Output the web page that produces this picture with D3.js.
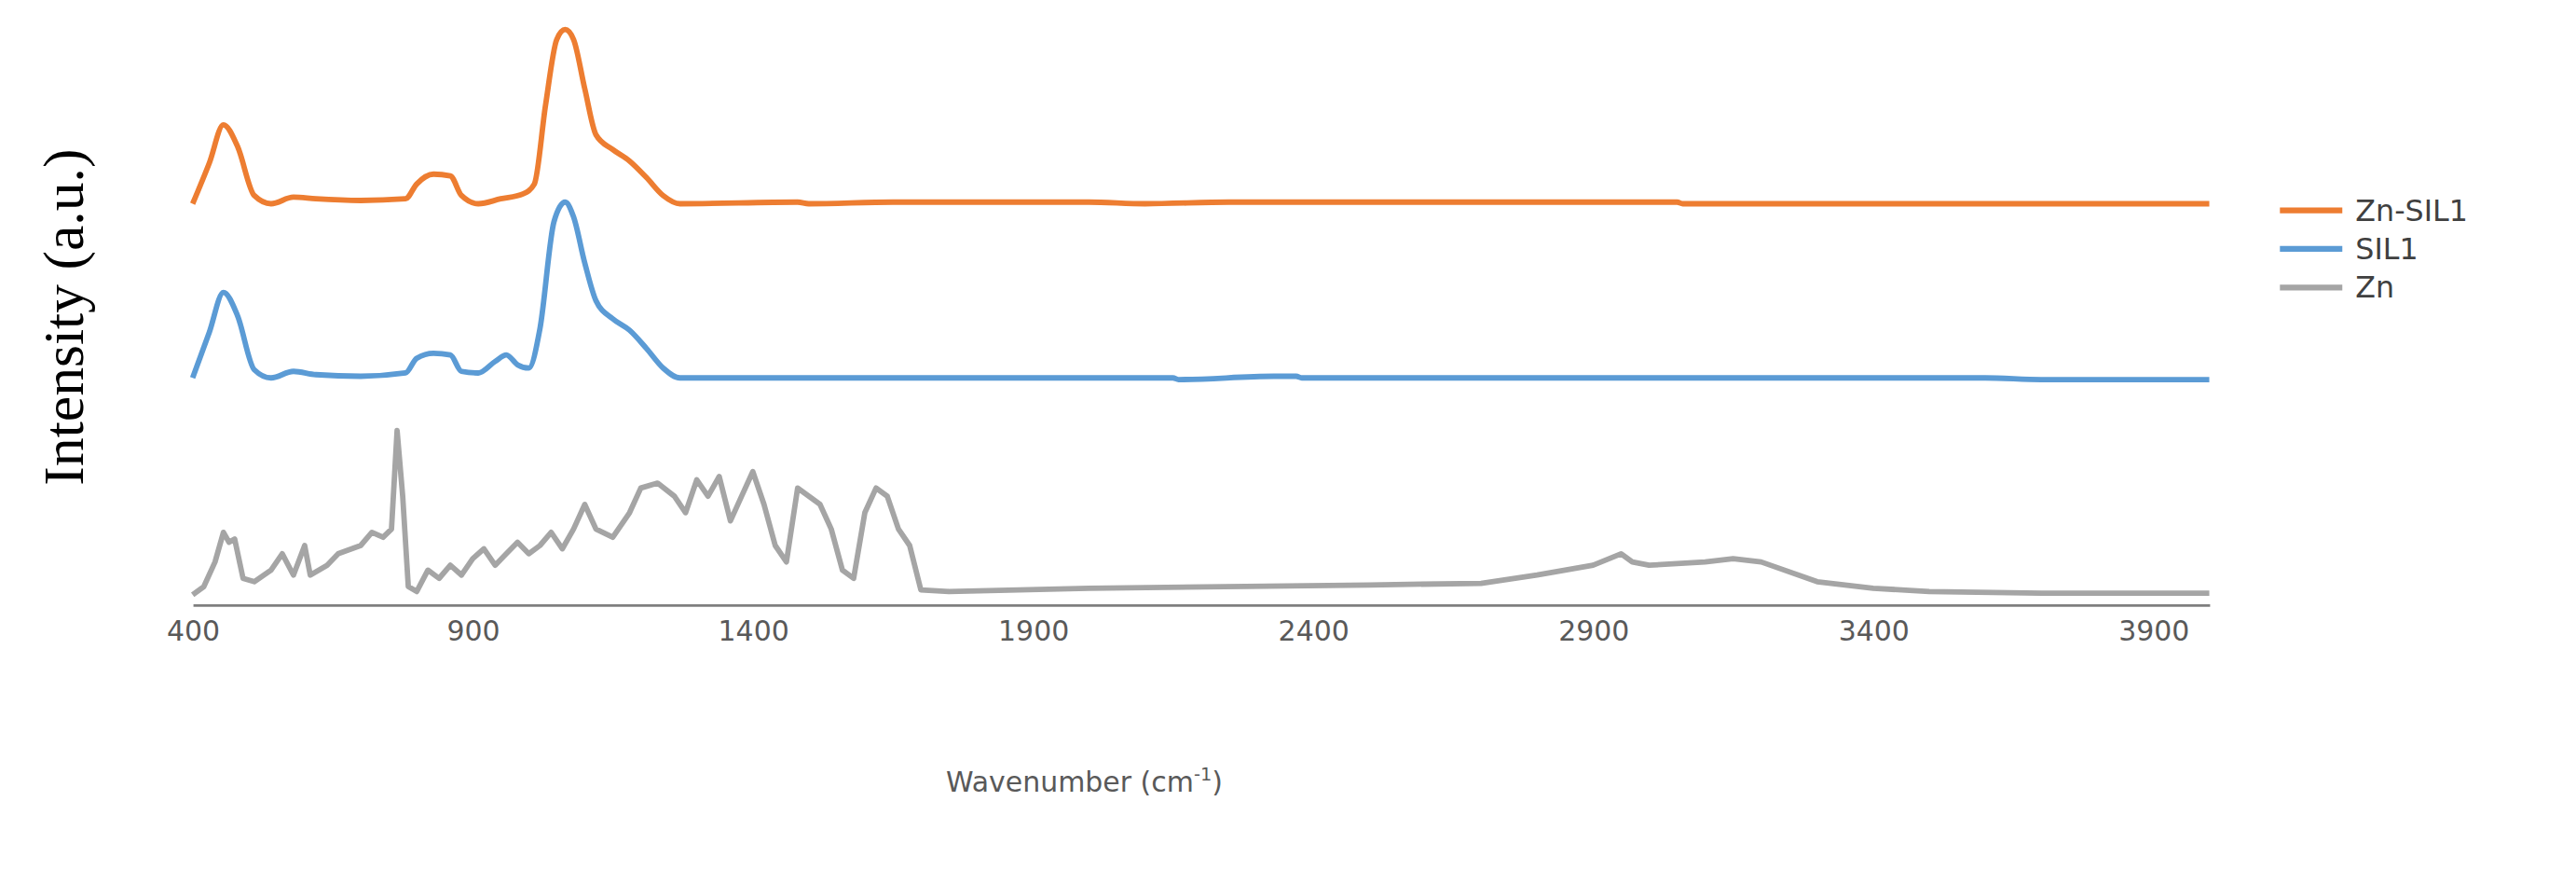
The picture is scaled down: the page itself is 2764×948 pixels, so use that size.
<!DOCTYPE html>
<html><head><meta charset="utf-8">
<script src="https://cdn.jsdelivr.net/npm/d3@7"></script>
<style>body{margin:0;background:#fff}</style>
</head><body>
<div class="sh"></div>
<script>
// series data: [wavenumber, intensity above own baseline]
var znSil1 = [[400,0],[430,25],[455,48],[480,35],[510,5],[540,0],[580,4],[620,3],[700,2],[780,3],[800,12],[830,18],[860,17],[880,5],[910,0],[950,3],[990,6],[1010,12],[1030,60],[1050,100],[1065,106],[1080,100],[1100,70],[1120,42],[1150,33],[1180,26],[1210,16],[1240,5],[1270,0],[1480,1],[1500,0],[1650,1],[2000,1],[2100,0],[2250,1],[3050,1],[3060,0],[4000,0]];
var sil1 = [[400,0],[430,28],[455,52],[480,38],[510,5],[540,0],[580,4],[620,2],[700,1],[780,3],[800,12],[830,15],[860,14],[880,4],[910,3],[940,10],[960,14],[980,8],[1000,6],[1020,30],[1045,95],[1065,107],[1080,98],[1100,70],[1120,47],[1150,36],[1180,29],[1210,18],[1240,6],[1270,0],[2150,0],[2160,-1],[2330,1],[2370,1],[2380,0],[3600,0],[3700,-1],[4000,-1]];
var zn = [[400,0],[420,5],[440,20],[455,38],[465,32],[475,34],[490,10],[510,8],[540,15],[560,25],[580,12],[600,30],[610,12],[640,18],[660,25],[700,30],[720,38],[740,35],[755,40],[765,100],[775,60],[785,5],[800,2],[820,15],[840,10],[860,18],[880,12],[900,22],[920,28],[940,18],[960,25],[980,32],[1000,25],[1020,30],[1040,38],[1060,28],[1080,40],[1100,55],[1120,40],[1150,35],[1180,50],[1200,65],[1230,68],[1260,60],[1280,50],[1300,70],[1320,60],[1340,72],[1360,45],[1380,60],[1400,75],[1420,55],[1440,30],[1460,20],[1480,65],[1500,60],[1520,55],[1540,40],[1560,15],[1580,10],[1600,50],[1620,65],[1640,60],[1660,40],[1680,30],[1700,3],[1750,2],[2000,4],[2500,6],[2700,7],[2800,12],[2900,18],[2950,25],[2970,20],[3000,18],[3100,20],[3150,22],[3200,20],[3300,8],[3400,4],[3500,2],[3700,1],[4000,1]];
var names = ["Zn-SIL1", "SIL1", "Zn"];
var offsets = [244, 138, 6];
var colors = ["#ED7D31", "#5B9BD5", "#A5A5A5"];
var xTicks = [400, 900, 1400, 1900, 2400, 2900, 3400, 3900];

var W = 1568, H = 538;
var svg = d3.select('.sh').append("svg")
    .attr("width", 2764).attr("height", 948)
    .attr("viewBox", "0 0 " + W + " " + H);

var x = d3.scaleLinear().domain([400, 4000]).range([117, 1345]);
var y = d3.scaleLinear().domain([0, 350]).range([368, 18]);

var smooth = d3.line().curve(d3.curveMonotoneX).x(function (d) { return x(d[0]); }).y(function (d) { return y(d[1]); });
var sharp = d3.line().x(function (d) { return x(d[0]); }).y(function (d) { return y(d[1]); });

[znSil1, sil1, zn].forEach(function (s, i) {
    svg.append("path")
        .datum(s.map(function (d) { return [d[0], d[1] + offsets[i]]; }))
        .attr("d", i < 2 ? smooth : sharp)
        .attr("fill", "none")
        .attr("stroke", colors[i])
        .attr("stroke-width", 3.3)
        .attr("stroke-linejoin", "round");
});

// x axis
var ax = svg.append("g").attr("transform", "translate(0,368)")
    .call(d3.axisBottom(x).tickValues(xTicks).tickSize(0).tickPadding(10).tickFormat(d3.format("d")));
ax.select(".domain").attr("stroke", "#7f7f7f").attr("stroke-width", 1.5);
ax.selectAll("text").attr("font-family", "Verdana, 'DejaVu Sans', sans-serif")
    .attr("font-size", 17).attr("fill", "#595959");

svg.append("text").attr("x", 660).attr("y", 482).attr("text-anchor", "middle")
    .attr("font-family", "Verdana, 'DejaVu Sans', sans-serif").attr("font-size", 17).attr("fill", "#595959")
    .html('Wavenumber (cm<tspan dy="-7" font-size="11">-1</tspan><tspan dy="7">)</tspan>');

svg.append("text").attr("transform", "translate(50,193) rotate(-90)").attr("text-anchor", "middle")
    .attr("font-family", "'Liberation Serif', serif").attr("font-size", 35).attr("fill", "#000")
    .text("Intensity (a.u.)");

// legend
var lg = svg.selectAll(".lg").data(names).enter().append("g")
    .attr("transform", function (d, i) { return "translate(1388," + (128 + i * 23.5) + ")"; });
lg.append("line").attr("x1", 0).attr("x2", 38).attr("stroke", function (d, i) { return colors[i]; }).attr("stroke-width", 3.5);
lg.append("text").attr("x", 46).attr("dy", "0.35em")
    .attr("font-family", "Verdana, 'DejaVu Sans', sans-serif").attr("font-size", 18).attr("fill", "#404040")
    .text(function (d) { return d; });
</script>
</body></html>
